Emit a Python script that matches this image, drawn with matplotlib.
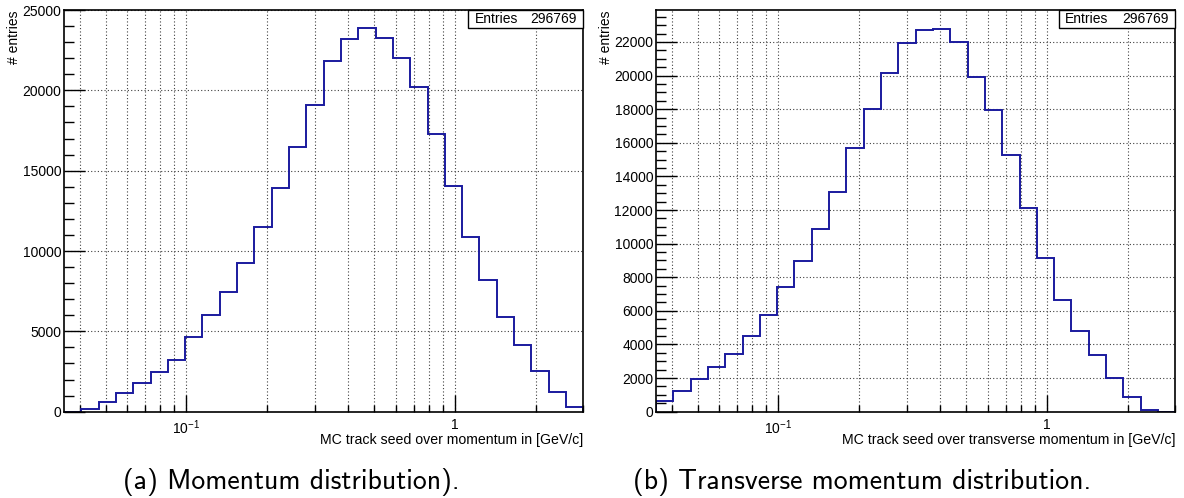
import numpy as np
import matplotlib
matplotlib.use("Agg")
import matplotlib.pyplot as plt
from matplotlib.patches import Rectangle
from matplotlib.ticker import LogLocator, MultipleLocator, NullFormatter

# histogram binning (log spaced, 30 bins)
x_min = 0.035
x_max = 3.0
n_bins = 30

# entries per bin, momentum
p_counts = [0, 150, 630, 1190, 1810, 2460, 3230, 4680, 5990, 7430,
            9280, 11510, 13900, 16500, 19080, 21810, 23200, 23870, 23260, 22010,
            20180, 17290, 14020, 10860, 8200, 5870, 4140, 2560, 1230, 290]

# entries per bin, transverse momentum
pt_counts = [640, 1230, 1930, 2640, 3420, 4490, 5770, 7400, 8950, 10850,
             13070, 15670, 18010, 20150, 21960, 22710, 22750, 22020, 19930, 17950,
             15270, 12120, 9150, 6630, 4800, 3370, 2020, 860, 100, 0]

entries = "296769"
x_titles = ["MC track seed over momentum in [GeV/c]",
            "MC track seed over transverse momentum in [GeV/c]"]
captions = ["(a) Momentum distribution).", "(b) Transverse momentum distribution."]

plt.rcParams['font.family'] = ['Liberation Sans', 'DejaVu Sans']
plt.rcParams['mathtext.fontset'] = 'custom'
plt.rcParams['mathtext.rm'] = 'Liberation Sans'
plt.rcParams['mathtext.it'] = 'Liberation Sans'

W, H = 1184, 498
fig = plt.figure(figsize=(W / 100, H / 100), dpi=100)

edges = np.logspace(np.log10(x_min), np.log10(x_max), n_bins + 1)


def draw_hist(left_px, counts, ymax, major, minor, xtitle, box_x):
    ax = fig.add_axes([left_px / W, (H - 411.7) / H, 519.3 / W, 401.7 / H])
    ax.stairs(counts, edges, color='#1a1a9e', lw=1.4)
    ax.set_xscale('log')
    ax.set_xlim(x_min, x_max)
    ax.set_ylim(0, ymax)

    ax.set_xticks([0.1, 1])
    ax.set_xticklabels([r'$10^{-1}$', '1'])
    ax.xaxis.set_minor_locator(LogLocator(base=10, subs=np.arange(2, 10)))
    ax.xaxis.set_minor_formatter(NullFormatter())
    ax.yaxis.set_major_locator(MultipleLocator(major))
    ax.yaxis.set_minor_locator(MultipleLocator(minor))

    ax.tick_params(which='both', direction='in', top=False, right=False,
                   labelsize=10, width=1)
    ax.tick_params(axis='y', which='major', length=15, pad=2)
    ax.tick_params(axis='y', which='minor', length=7.5)
    ax.tick_params(axis='x', which='major', length=12, pad=4.5)
    ax.tick_params(axis='x', which='minor', length=5)

    grid_style = dict(color='0.25', lw=0.8, linestyle=(0, (1, 2)))
    ax.grid(True, which='both', axis='x', **grid_style)
    ax.grid(True, which='major', axis='y', **grid_style)
    ax.set_axisbelow(True)
    for s in ax.spines.values():
        s.set_linewidth(1.2)

    ax.text(1.0, -0.071, xtitle, transform=ax.transAxes, ha='right', va='center',
            fontsize=10.2)
    ax.text(-50 / 519.3, 1.0, '# entries',
            transform=ax.transAxes, rotation=90, ha='center', va='top', fontsize=10)

    # statistics box
    x0 = (box_x - left_px) / 519.3
    ax.add_patch(Rectangle((x0, 0.9544), 1 - x0, 0.0456, transform=ax.transAxes,
                           facecolor='white', edgecolor='black', lw=1,
                           clip_on=False, zorder=5))
    ax.text(x0 + 0.012, 0.977, 'Entries', transform=ax.transAxes, ha='left',
            va='center', fontsize=10, zorder=6)
    ax.text(0.988, 0.977, entries, transform=ax.transAxes, ha='right',
            va='center', fontsize=10, zorder=6)
    return ax


draw_hist(64, p_counts, 25000, 5000, 1000, x_titles[0], 468.3)
draw_hist(656, pt_counts, 23900, 2000, 500, x_titles[1], 1059)

fig.text(291 / W, (H - 489) / H, captions[0], family='cmss10', fontsize=20,
         ha='center', va='baseline')
fig.text(862 / W, (H - 489) / H, captions[1], family='cmss10', fontsize=20,
         ha='center', va='baseline')

fig.savefig('out.png', dpi=100)
